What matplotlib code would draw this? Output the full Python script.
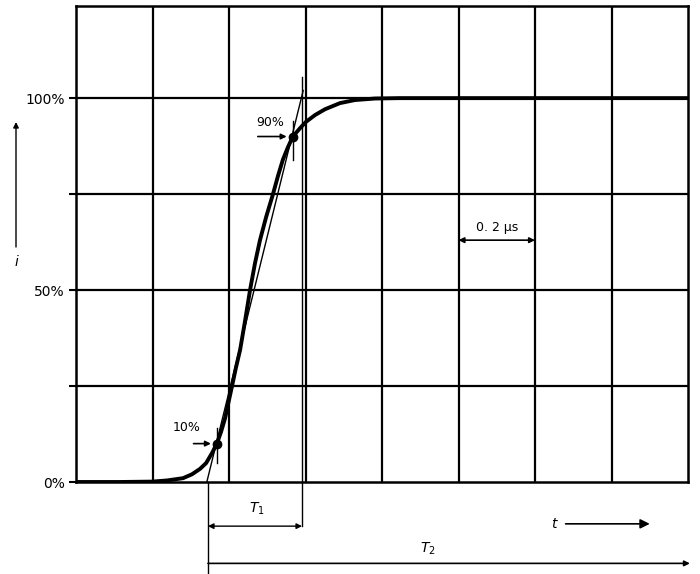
import numpy as np
import matplotlib.pyplot as plt

# pulse current curve, time in microseconds, current in % of peak
t_us = [0.0, 0.115, 0.199, 0.238, 0.259, 0.280, 0.303, 0.324, 0.340, 0.356,
        0.369, 0.379, 0.390, 0.397, 0.408, 0.418, 0.429, 0.442, 0.455, 0.468,
        0.481, 0.497, 0.515, 0.528, 0.541, 0.554, 0.567, 0.586, 0.601, 0.625,
        0.651, 0.690, 0.729, 0.782, 0.847, 1.60]
i_pct = [0, 0, 0.1, 0.4, 0.7, 1.0, 2.0, 3.4, 4.9, 7.6,
         10.2, 13, 16.7, 20, 25, 29.7, 34.4, 42, 50, 57,
         63, 69, 75, 79.7, 84, 87.2, 90, 92.2, 93.8, 95.6,
         97.1, 98.7, 99.5, 99.9, 100, 100]

# marked points and straight line through them
mark_t = [0.369, 0.567]
mark_i = [10, 90]
line_t = [0.342, 0.594]
line_i = [0, 102]

ytick_vals = [0, 25, 50, 75, 100]
ytick_labels = ["0%", "", "50%", "", "100%"]

fig = plt.figure(figsize=(7, 5.74), dpi=100)
ax = fig.add_axes([76/700, 92/574, 612/700, 476/574])
ax.set_xlim(0, 1.6)
ax.set_ylim(0, 124)

# grid
for x in np.arange(0.2, 1.6, 0.2):
    ax.axvline(x, color="black", lw=1.6, zorder=1)
for y in ytick_vals[1:]:
    ax.axhline(y, color="black", lw=1.6, zorder=1)
for s in ax.spines.values():
    s.set_linewidth(1.8)

ax.set_xticks([])
ax.set_yticks(ytick_vals)
ax.set_yticklabels(ytick_labels, fontsize=10)
ax.tick_params(axis="y", length=5, width=1.5, pad=3)

ax.plot(t_us, i_pct, color="black", lw=2.8, zorder=3,
        solid_capstyle="round", solid_joinstyle="round")
ax.plot(line_t, line_i, color="black", lw=1.0, zorder=3)
ax.plot(mark_t, mark_i, "o", color="black", ms=6, zorder=4)

# small cross ticks at the marked points
ax.plot([0.369, 0.369], [5, 14], color="black", lw=1.0, zorder=4)
ax.plot([0.567, 0.567], [84, 94], color="black", lw=1.0, zorder=4)

# percent annotations
ax.annotate("", xy=(0.36, 10), xytext=(0.30, 10),
            arrowprops=dict(arrowstyle="-|>", color="black", lw=1.2, mutation_scale=8))
ax.text(0.29, 12.5, "10%", fontsize=9, ha="center", va="bottom")
ax.annotate("", xy=(0.558, 90), xytext=(0.468, 90),
            arrowprops=dict(arrowstyle="-|>", color="black", lw=1.2, mutation_scale=8))
ax.text(0.507, 92, "90%", fontsize=9, ha="center", va="bottom")

# 0.2 us scale
ax.annotate("", xy=(1.0, 63), xytext=(1.2, 63),
            arrowprops=dict(arrowstyle="<|-|>", color="black", lw=1.2, mutation_scale=8,
                            shrinkA=0, shrinkB=0))
ax.text(1.1, 64.5, "0. 2 μs", fontsize=9, ha="center", va="bottom")

# extension lines for T1, T2
ax.plot([0.345, 0.345], [0, -24], color="black", lw=1.0, clip_on=False)
ax.plot([0.591, 0.591], [105.5, -11.5], color="black", lw=1.0, clip_on=False)

ax.annotate("", xy=(0.345, -11.5), xytext=(0.591, -11.5), annotation_clip=False,
            arrowprops=dict(arrowstyle="<|-|>", color="black", lw=1.0, mutation_scale=8,
                            shrinkA=0, shrinkB=0))
ax.text(0.473, -7, "$T_1$", fontsize=10, ha="center", va="center")

ax.annotate("", xy=(0.345, -21.2), xytext=(1.605, -21.2), annotation_clip=False,
            arrowprops=dict(arrowstyle="<|-", color="black", lw=1.2, mutation_scale=8,
                            shrinkA=0, shrinkB=0))
ax.text(0.92, -17.5, "$T_2$", fontsize=10, ha="center", va="center")

# time axis label
ax.text(1.252, -10.9, "$t$", fontsize=10, ha="center", va="center")
ax.annotate("", xy=(1.50, -10.9), xytext=(1.28, -10.9), annotation_clip=False,
            arrowprops=dict(arrowstyle="-|>", color="black", lw=1.2, mutation_scale=14,
                            shrinkA=0, shrinkB=0))

# current axis label
fig.text(17/700, 1 - 262/574, "$i$", fontsize=10, ha="center", va="center")
ax.annotate("", xy=(16/700, 1 - 122/574), xytext=(16/700, 1 - 247/574),
            xycoords="figure fraction", textcoords="figure fraction",
            arrowprops=dict(arrowstyle="-|>", color="black", lw=1.0, mutation_scale=8,
                            shrinkA=0, shrinkB=0))

fig.savefig("out.png", dpi=100)
